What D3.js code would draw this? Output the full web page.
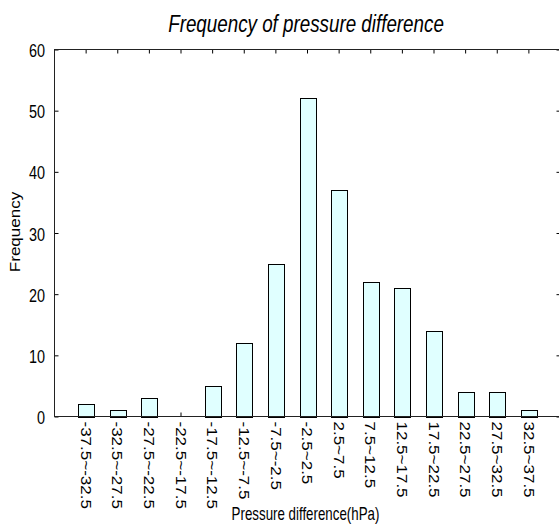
<!DOCTYPE html>
<html>
<head>
<meta charset="utf-8">
<script src="https://cdn.jsdelivr.net/npm/d3@7"></script>
<style>
  html, body { margin: 0; padding: 0; background: #fff; }
  svg { display: block; }
</style>
</head>
<body>
<svg id="chart" width="559" height="525"></svg>
<script>
const categories = ["-37.5~-32.5","-32.5~-27.5","-27.5~-22.5","-22.5~-17.5","-17.5~-12.5","-12.5~-7.5","-7.5~-2.5","-2.5~2.5","2.5~7.5","7.5~12.5","12.5~17.5","17.5~22.5","22.5~27.5","27.5~32.5","32.5~37.5"];
const frequencies = [2, 1, 3, 0, 5, 12, 25, 52, 37, 22, 21, 14, 4, 4, 1];
const yTicks = [0, 10, 20, 30, 40, 50, 60];
const titleText = "Frequency of pressure difference";
const xLabelText = "Pressure difference(hPa)";
const yLabelText = "Frequency";

(function () {
const svg = d3.select("#chart");
const pL = 54.5, pR = 560.5, pT = 49.5, pB = 416.5;
const step = (pR - pL) / (categories.length + 1);

const x = d3.scaleBand()
  .domain(categories)
  .range([pL + step / 2, pR - step / 2])
  .paddingInner(0.5)
  .paddingOuter(0.25);

const y = d3.scaleLinear().domain([0, 60]).range([pB, pT]);

const font = "'Liberation Sans', Arial, sans-serif";

// bottom axis (inward ticks, rotated labels)
const gx = svg.append("g")
  .attr("transform", `translate(0,${pB})`)
  .call(d3.axisBottom(x).tickSize(-4).tickPadding(0));
gx.select(".domain").remove();
gx.selectAll(".tick line").attr("stroke", "#000");
gx.selectAll(".tick text")
  .attr("font-family", font)
  .attr("font-size", 17)
  .attr("fill", "#000")
  .attr("text-anchor", "start")
  .attr("transform", "translate(0,5) rotate(90) scale(1,0.86)")
  .attr("x", 0)
  .attr("y", 0)
  .attr("dy", "0.36em");

// bars
svg.append("g").selectAll("rect")
  .data(frequencies)
  .join("rect")
  .attr("x", (d, i) => Math.round(x(categories[i])) + 0.5)
  .attr("y", d => Math.round(y(d)) + 0.5)
  .attr("width", Math.round(x.bandwidth()))
  .attr("height", d => Math.max(0, Math.round(y(0)) - Math.round(y(d))))
  .attr("fill", "#e0ffff")
  .attr("stroke", "#000")
  .attr("stroke-width", 1);

// top axis mirror ticks
const gt = svg.append("g")
  .attr("transform", `translate(0,${pT})`)
  .call(d3.axisTop(x).tickSize(-4).tickFormat(""));
gt.select(".domain").remove();
gt.selectAll(".tick line").attr("stroke", "#000");

// left axis
const gy = svg.append("g")
  .attr("transform", `translate(${pL},0)`)
  .call(d3.axisLeft(y).tickValues(yTicks).tickSize(-4).tickPadding(9));
gy.select(".domain").remove();
gy.selectAll(".tick line").attr("stroke", "#000");
gy.selectAll(".tick text")
  .attr("font-family", font)
  .attr("font-size", 19)
  .attr("fill", "#000")
  .attr("transform", "translate(-9.5,1) scale(0.76,1)")
  .attr("x", 0);

// right axis mirror
const gr = svg.append("g")
  .attr("transform", `translate(${pR},0)`)
  .call(d3.axisRight(y).tickValues(yTicks).tickSize(-4).tickFormat(""));
gr.select(".domain").remove();
gr.selectAll(".tick line").attr("stroke", "#000");

// frame
svg.append("rect")
  .attr("x", pL).attr("y", pT)
  .attr("width", pR - pL).attr("height", pB - pT)
  .attr("fill", "none").attr("stroke", "#222").attr("stroke-width", 1);

// title
svg.append("text")
  .attr("transform", "translate(306,31.5) scale(0.8,1)")
  .attr("text-anchor", "middle")
  .attr("font-family", font)
  .attr("font-style", "italic")
  .attr("font-size", 23.5)
  .attr("fill", "#000")
  .text(titleText);

// x label
svg.append("text")
  .attr("transform", "translate(305.5,520) scale(0.74,1)")
  .attr("text-anchor", "middle")
  .attr("font-family", font)
  .attr("font-size", 18)
  .attr("fill", "#000")
  .text(xLabelText);

// y label
svg.append("text")
  .attr("transform", "translate(20,232) rotate(-90) scale(1,0.86)")
  .attr("text-anchor", "middle")
  .attr("font-family", font)
  .attr("font-size", 17)
  .attr("fill", "#000")
  .text(yLabelText);
})();
</script>
</body>
</html>
